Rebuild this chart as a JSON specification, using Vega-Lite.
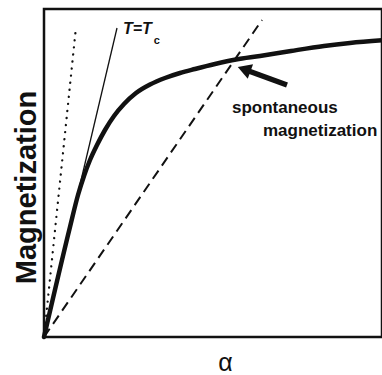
{
  "$schema": "https://vega.github.io/schema/vega-lite/v6.json",
  "width": 338,
  "height": 328,
  "autosize": {"type": "none"},
  "padding": {"left": 44, "top": 9, "right": 0, "bottom": 38},
  "background": "white",
  "config": {
    "view": {"stroke": "#111", "strokeWidth": 2.5},
    "font": "Liberation Sans"
  },
  "datasets": {
    "brillouin": [
      {"a": 0, "m": 0},
      {"a": 7.69, "m": 33.54},
      {"a": 10.06, "m": 43.29},
      {"a": 11.83, "m": 49.09},
      {"a": 13.61, "m": 53.96},
      {"a": 15.68, "m": 58.54},
      {"a": 18.05, "m": 63.11},
      {"a": 20.71, "m": 67.38},
      {"a": 23.67, "m": 71.04},
      {"a": 27.22, "m": 74.39},
      {"a": 31.36, "m": 76.98},
      {"a": 35.8, "m": 78.96},
      {"a": 40.24, "m": 80.49},
      {"a": 44.67, "m": 81.71},
      {"a": 50.59, "m": 83.23},
      {"a": 56.8, "m": 84.6},
      {"a": 63.91, "m": 85.67},
      {"a": 73.08, "m": 87.2},
      {"a": 82.84, "m": 88.72},
      {"a": 90.53, "m": 89.63},
      {"a": 100, "m": 90.45}
    ],
    "critical": [{"a": 0, "m": 0}, {"a": 21.6, "m": 94.21}],
    "paramagnetic": [{"a": 0, "m": 0}, {"a": 9.47, "m": 94.51}],
    "field": [{"a": 0, "m": 0}, {"a": 64.5, "m": 96.65}],
    "arrowShaft": [{"a": 71.89, "m": 76.83, "a2": 59.76, "m2": 81.4}],
    "arrowHead": [{"a": 59.2, "m": 81.65}],
    "labels": [
      {"a": 55.62, "m": 68.3, "text": "spontaneous"},
      {"a": 64.79, "m": 61.3, "text": "magnetization"}
    ],
    "tcLabel": [{"a": 23.37, "m": 92.23, "text": "T=T"}],
    "tcSub": [{"a": 32.5, "m": 89.33, "text": "c"}]
  },
  "encoding": {
    "x": {
      "field": "a",
      "type": "quantitative",
      "scale": {"domain": [0, 100], "nice": false, "zero": false},
      "axis": {
        "domain": false, "ticks": false, "labels": false, "grid": false,
        "title": "α",
        "titleFont": "Liberation Sans",
        "titleFontSize": 25,
        "titleFontWeight": "normal",
        "titleColor": "#111",
        "titleX": 181,
        "titleY": 33,
        "titleAlign": "center",
        "titleBaseline": "alphabetic"
      }
    },
    "y": {
      "field": "m",
      "type": "quantitative",
      "scale": {"domain": [0, 100], "nice": false, "zero": false},
      "axis": {
        "domain": false, "ticks": false, "labels": false, "grid": false,
        "title": "Magnetization",
        "titleFont": "Liberation Sans",
        "titleFontSize": 29,
        "titleFontWeight": "bold",
        "titleColor": "#111",
        "titleAngle": 270,
        "titleX": -9,
        "titleY": 178,
        "titleAlign": "center",
        "titleBaseline": "alphabetic"
      }
    }
  },
  "layer": [
    {
      "data": {"name": "paramagnetic"},
      "mark": {"type": "line", "color": "#111", "strokeWidth": 2.3, "strokeDash": [0.1, 7], "strokeCap": "round"}
    },
    {
      "data": {"name": "critical"},
      "mark": {"type": "line", "color": "#111", "strokeWidth": 1.3}
    },
    {
      "data": {"name": "field"},
      "mark": {"type": "line", "color": "#111", "strokeWidth": 2, "strokeDash": [10, 6]}
    },
    {
      "data": {"name": "brillouin"},
      "mark": {"type": "line", "color": "#111", "strokeWidth": 4.5, "interpolate": "monotone", "strokeCap": "round"}
    },
    {
      "data": {"name": "arrowShaft"},
      "mark": {"type": "rule", "color": "#111", "strokeWidth": 5.5},
      "encoding": {
        "x2": {"field": "a2"},
        "y2": {"field": "m2"}
      }
    },
    {
      "data": {"name": "arrowHead"},
      "mark": {"type": "point", "shape": "triangle-up", "filled": true, "color": "#111", "size": 240, "angle": 290, "opacity": 1}
    },
    {
      "data": {"name": "labels"},
      "mark": {"type": "text", "align": "left", "baseline": "alphabetic", "font": "Liberation Sans", "fontSize": 17, "fontWeight": "bold", "color": "#111"},
      "encoding": {"text": {"field": "text"}}
    },
    {
      "data": {"name": "tcLabel"},
      "mark": {"type": "text", "align": "left", "baseline": "alphabetic", "font": "Liberation Sans", "fontSize": 16, "fontWeight": "bold", "fontStyle": "italic", "color": "#111"},
      "encoding": {"text": {"field": "text"}}
    },
    {
      "data": {"name": "tcSub"},
      "mark": {"type": "text", "align": "left", "baseline": "alphabetic", "font": "Liberation Sans", "fontSize": 11, "fontWeight": "bold", "color": "#111"},
      "encoding": {"text": {"field": "text"}}
    }
  ]
}
